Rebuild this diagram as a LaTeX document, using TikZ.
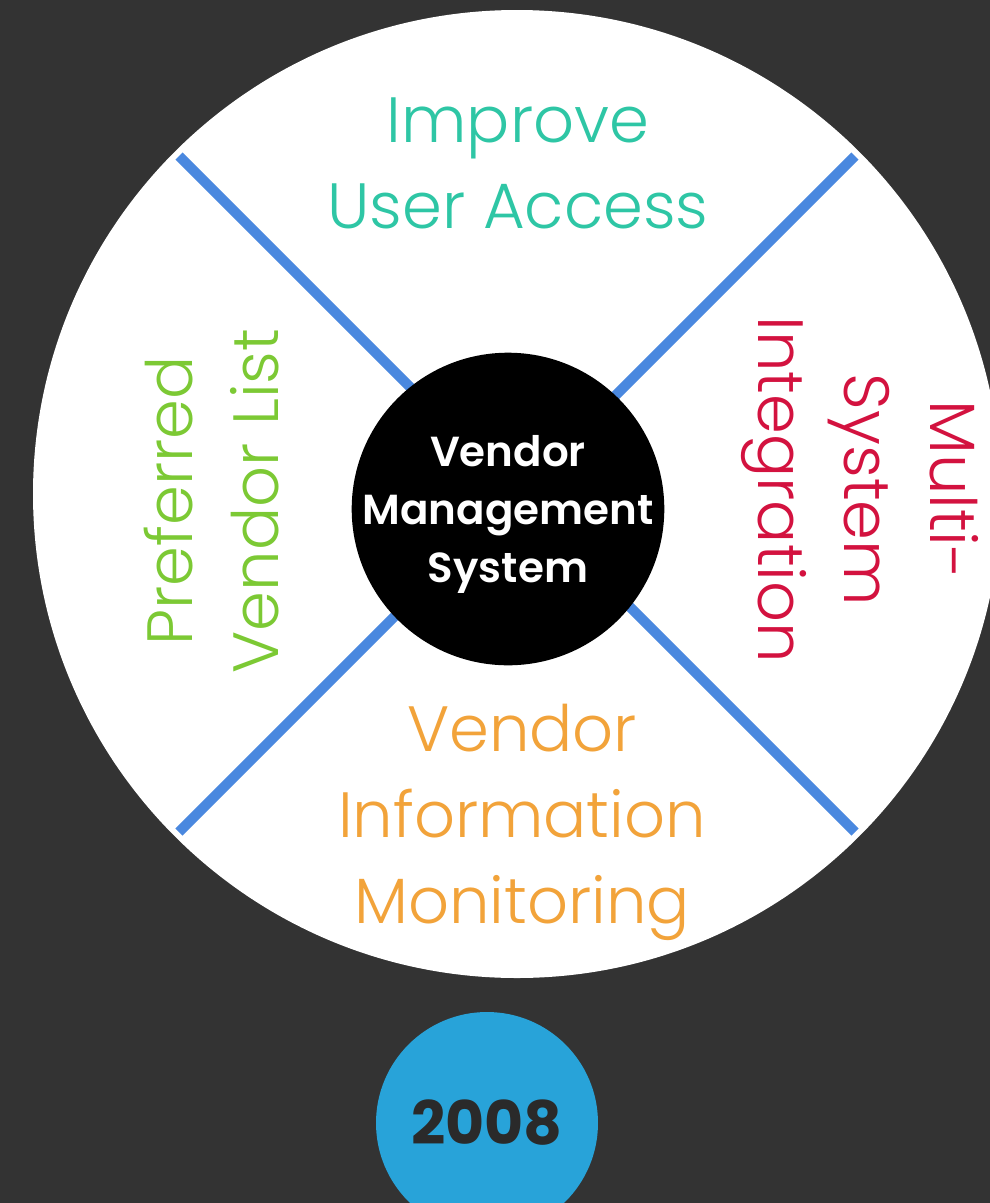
\documentclass[tikz,border=0pt]{standalone}
\usepackage{fontspec}
\setmainfont{Poppins}
\newfontfamily\lightfont{Poppins Light}
\newfontfamily\semifont{Poppins SemiBold}
\usepackage{tikz}
\definecolor{darkbg}{HTML}{333333}
\definecolor{dividerblue}{HTML}{4A88DF}
\definecolor{yearblue}{HTML}{28A3D9}
\definecolor{yeartext}{HTML}{2A2A2A}
\definecolor{accessteal}{HTML}{2EC6A5}
\definecolor{listgreen}{HTML}{7CC934}
\definecolor{integred}{HTML}{D3123F}
\definecolor{monitororange}{HTML}{F2A33A}
\usetikzlibrary{positioning}

\begin{document}
\begin{tikzpicture}[x=1pt,y=1pt]
                    \tikzstyle{every node}=[inner sep=0pt, align=center]
                    \tikzstyle{quarter} = [font=\lightfont\fontsize{64}{86}\selectfont]
                    \tikzstyle{divider} = [line width=10pt, dividerblue]
                    \tikzstyle{hub} = [circle, fill=black, minimum size=308pt, inner sep=-5pt, text=white, text depth=0pt, font=\semifont\fontsize{42}{58}\selectfont]
                    \tikzstyle{year} = [circle, fill=yearblue, minimum size=222pt, text=yeartext, font=\bfseries\fontsize{60}{60}\selectfont]

                    \clip (0,0) rectangle (990,-1203);
                    \fill[darkbg] (0,0) rectangle (990,-1203);
                    \coordinate (o) at (517,-494);
                    \fill[white] (o) circle (484);
                    \foreach \a in {45,135,225,315}
                        \draw[divider] (o) -- ([shift={(\a:478)}]o);

                    \node[hub](vms) at (508,-509) {Vendor\\Management\\System};
                    \node[quarter, text=accessteal](access) at (518,-163) {Improve\\User Access};
                    \node[quarter, text=listgreen, rotate=90](vlist) at (212,-501) {Preferred\\Vendor List};
                    \node[quarter, text=integred, rotate=-90](integ) at (860,-490) {Multi-\\System\\Integration};
                    \node[quarter, text=monitororange](monitor) at (522,-822) {Vendor\\Information\\Monitoring};

                    % the year badge
                    \node[year](yr) at (487,-1123) {2008};
\end{tikzpicture}
\end{document}
